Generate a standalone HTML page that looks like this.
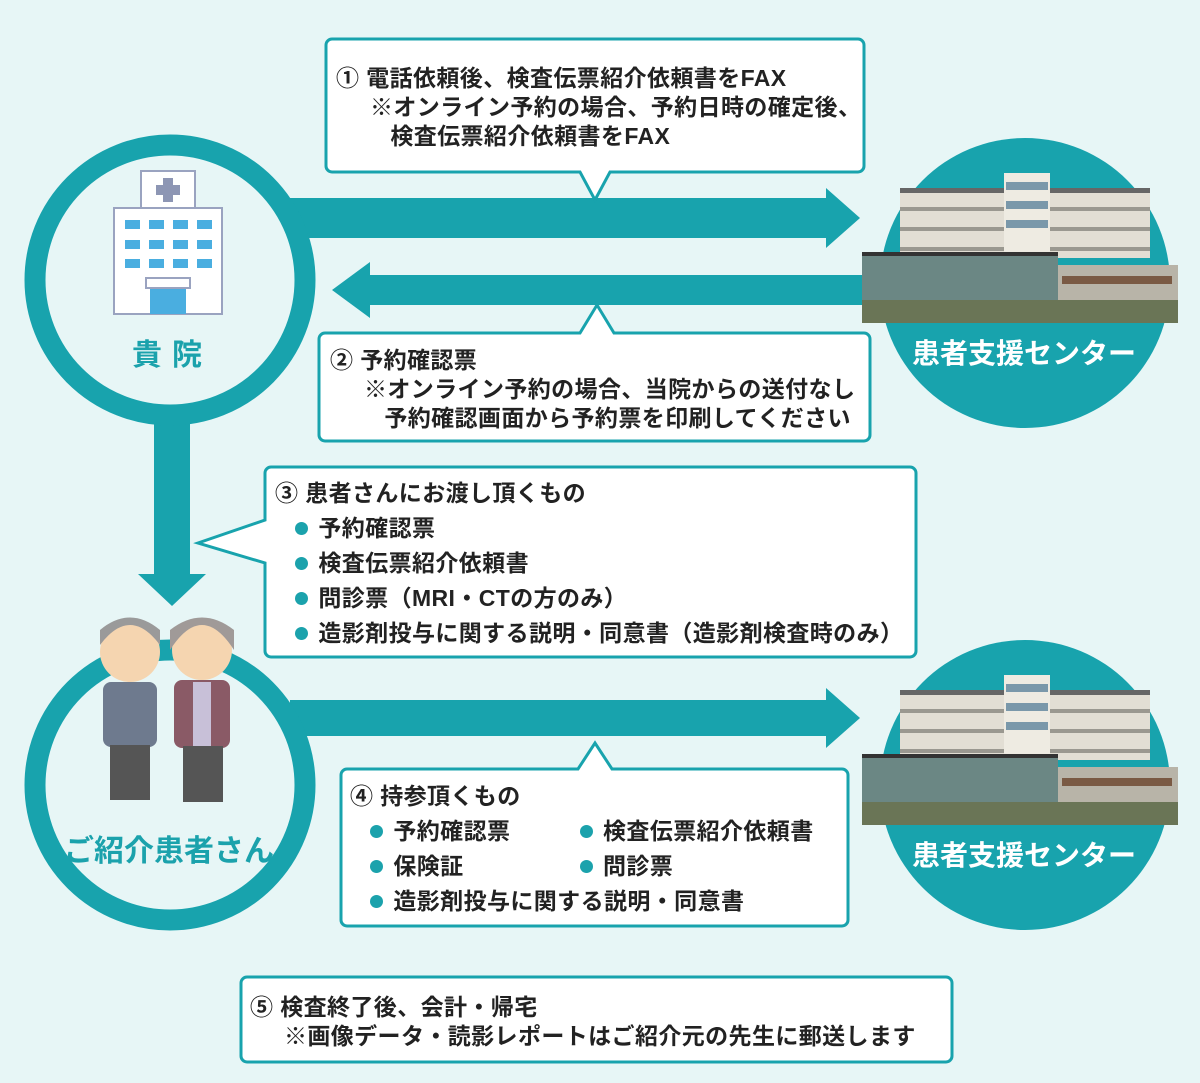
<!DOCTYPE html>
<html><head><meta charset="utf-8"><style>
body{margin:0;width:1200px;height:1083px;background:#e7f6f6;position:relative;overflow:hidden;font-family:"Liberation Sans","Noto Sans CJK JP",sans-serif;}
.t{position:absolute;font-size:23px;letter-spacing:0.4px;font-weight:bold;color:#222;white-space:nowrap;line-height:29px;}
.lbl{position:absolute;font-weight:bold;white-space:nowrap;}
.dot{display:inline-block;width:13px;height:13px;border-radius:50%;background:#1ba2ac;margin-right:10px;vertical-align:1px;}
</style></head><body>
<svg width="1200" height="1083" style="position:absolute;left:0;top:0">
<g fill="#18a3ad">
<rect x="290" y="198" width="540" height="40"/><polygon points="826,188 860,218 826,248"/>
<rect x="366" y="275" width="500" height="30"/><polygon points="370,262 332,290 370,318"/>
<rect x="154" y="420" width="36" height="158"/><polygon points="138,574 206,574 172,606"/>
<rect x="290" y="700" width="540" height="36"/><polygon points="826,688 860,718 826,748"/>
</g>
<circle cx="170" cy="280" r="135" fill="#e7f6f6" stroke="#18a3ad" stroke-width="21"/>
<circle cx="170" cy="785" r="135" fill="#e7f6f6" stroke="#18a3ad" stroke-width="21"/>
<circle cx="1025" cy="283" r="145" fill="#18a3ad"/>
<circle cx="1025" cy="785" r="145" fill="#18a3ad"/>
<g id="b">
<rect x="900" y="188" width="250" height="70" fill="#e2ded4"/>
<rect x="900" y="188" width="250" height="5" fill="#666"/>
<rect x="900" y="207" width="250" height="4" fill="#9a9890"/><rect x="900" y="227" width="250" height="4" fill="#9a9890"/><rect x="900" y="247" width="250" height="4" fill="#9a9890"/>
<rect x="1004" y="173" width="46" height="100" fill="#eeebe2"/>
<rect x="1006" y="182" width="42" height="8" fill="#7a98aa"/><rect x="1006" y="201" width="42" height="8" fill="#7a98aa"/><rect x="1006" y="220" width="42" height="8" fill="#7a98aa"/>
<rect x="862" y="252" width="196" height="50" fill="#6b8784"/>
<rect x="862" y="252" width="196" height="4" fill="#333"/>
<rect x="1058" y="265" width="120" height="37" fill="#b8b4a8"/>
<rect x="1062" y="276" width="110" height="8" fill="#7a5a44"/>
<rect x="862" y="300" width="316" height="23" fill="#6a7556"/>
</g>
<use href="#b" y="502"/>
<rect x="141" y="171" width="54" height="38" fill="#fff" stroke="#9aa3c0" stroke-width="2"/>
<rect x="163" y="178" width="10" height="24" fill="#8d96b4"/><rect x="156" y="185" width="24" height="10" fill="#8d96b4"/>
<rect x="114" y="208" width="108" height="106" fill="#fff" stroke="#9aa3c0" stroke-width="2"/>
<g fill="#4aaee0">
<rect x="125" y="220" width="15" height="9"/><rect x="149" y="220" width="15" height="9"/><rect x="173" y="220" width="15" height="9"/><rect x="197" y="220" width="15" height="9"/>
<rect x="125" y="240" width="15" height="9"/><rect x="149" y="240" width="15" height="9"/><rect x="173" y="240" width="15" height="9"/><rect x="197" y="240" width="15" height="9"/>
<rect x="125" y="259" width="15" height="9"/><rect x="149" y="259" width="15" height="9"/><rect x="173" y="259" width="15" height="9"/><rect x="197" y="259" width="15" height="9"/>
<rect x="150" y="288" width="36" height="26"/></g>
<rect x="146" y="278" width="44" height="10" fill="#fff" stroke="#9aa3c0" stroke-width="2"/>
<circle cx="130" cy="652" r="30" fill="#f5d5b0"/><path d="M100,645 q30,-40 60,0 l0,-15 q-30,-25 -60,0z" fill="#9a9a9a"/>
<rect x="103" y="682" width="54" height="65" rx="8" fill="#6e7a8e"/><rect x="110" y="745" width="40" height="55" fill="#555"/>
<circle cx="202" cy="650" r="30" fill="#f5d5b0"/><path d="M170,650 q32,-50 64,0 l0,-20 q-32,-25 -64,0z" fill="#a09a98"/>
<rect x="174" y="680" width="56" height="68" rx="8" fill="#8a5a66"/><rect x="193" y="682" width="18" height="64" fill="#c8c0d8"/><rect x="183" y="746" width="40" height="56" fill="#555"/>
<g fill="#fff" stroke="#18a3ad" stroke-width="3">
<path d="M332,39 H858 a6,6 0 0 1 6,6 V166 a6,6 0 0 1 -6,6 H610 L595,200 L580,172 H332 a6,6 0 0 1 -6,-6 V45 a6,6 0 0 1 6,-6z"/>
<path d="M325,333 H580 L597,305 L614,333 H864 a6,6 0 0 1 6,6 V435 a6,6 0 0 1 -6,6 H325 a6,6 0 0 1 -6,-6 V339 a6,6 0 0 1 6,-6z"/>
<path d="M271,467 H910 a6,6 0 0 1 6,6 V651 a6,6 0 0 1 -6,6 H271 a6,6 0 0 1 -6,-6 V563 L198,543 L265,520 V473 a6,6 0 0 1 6,-6z"/>
<path d="M347,769 H578 L595,743 L612,769 H842 a6,6 0 0 1 6,6 V920 a6,6 0 0 1 -6,6 H347 a6,6 0 0 1 -6,-6 V775 a6,6 0 0 1 6,-6z"/>
<rect x="241" y="977" width="711" height="85" rx="6"/>
</g>
</svg>
<div class="lbl" style="left:132px;top:330px;font-size:30px;color:#1ba2ac;letter-spacing:10px">貴院</div>
<div class="lbl" style="left:64px;top:826px;font-size:30px;color:#1ba2ac">ご紹介患者さん</div>
<div class="lbl" style="left:912px;top:332px;font-size:28px;color:#fff">患者支援センター</div>
<div class="lbl" style="left:912px;top:834px;font-size:28px;color:#fff">患者支援センター</div>
<div class="t" style="left:336px;top:64px">① 電話依頼後、検査伝票紹介依頼書をFAX<br>&nbsp;&nbsp;&nbsp;&nbsp;&nbsp;※オンライン予約の場合、予約日時の確定後、<br>&nbsp;&nbsp;&nbsp;&nbsp;&nbsp;&nbsp;&nbsp;&nbsp;検査伝票紹介依頼書をFAX</div>
<div class="t" style="left:330px;top:346px">② 予約確認票<br>&nbsp;&nbsp;&nbsp;&nbsp;&nbsp;※オンライン予約の場合、当院からの送付なし<br>&nbsp;&nbsp;&nbsp;&nbsp;&nbsp;&nbsp;&nbsp;&nbsp;予約確認画面から予約票を印刷してください</div>
<div class="t" style="left:275px;top:476px;line-height:35px">③ 患者さんにお渡し頂くもの<br>&nbsp;&nbsp;&nbsp;<span class="dot"></span>予約確認票<br>&nbsp;&nbsp;&nbsp;<span class="dot"></span>検査伝票紹介依頼書<br>&nbsp;&nbsp;&nbsp;<span class="dot"></span>問診票（MRI・CTの方のみ）<br>&nbsp;&nbsp;&nbsp;<span class="dot"></span>造影剤投与に関する説明・同意書（造影剤検査時のみ）</div>
<div class="t" style="left:350px;top:779px;line-height:35px">④ 持参頂くもの<br>&nbsp;&nbsp;&nbsp;<span class="dot"></span>予約確認票<br>&nbsp;&nbsp;&nbsp;<span class="dot"></span>保険証<br>&nbsp;&nbsp;&nbsp;<span class="dot"></span>造影剤投与に関する説明・同意書</div>
<div class="t" style="left:580px;top:814px;line-height:35px"><span class="dot"></span>検査伝票紹介依頼書<br><span class="dot"></span>問診票</div>
<div class="t" style="left:250px;top:993px">⑤ 検査終了後、会計・帰宅<br>&nbsp;&nbsp;&nbsp;&nbsp;&nbsp;※画像データ・読影レポートはご紹介元の先生に郵送します</div>
</body></html>
